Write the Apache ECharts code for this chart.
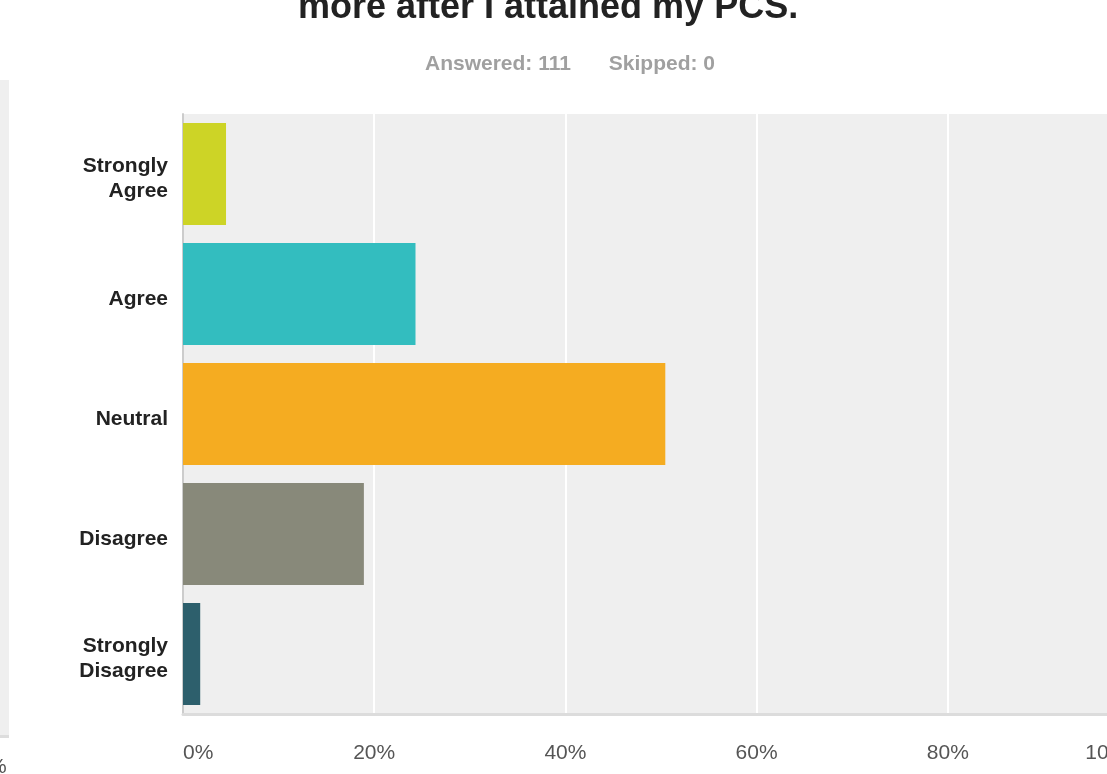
<!DOCTYPE html>
<html>
<head>
<meta charset="utf-8">
<script src="https://cdn.jsdelivr.net/npm/echarts@6/dist/echarts.min.js"></script>
<style>
html,body{margin:0;padding:0;background:#fff;overflow:hidden;}
#chart{width:1160px;height:774px;}
</style>
</head>
<body>
<div id="chart"></div>
<script>
var titleText = 'more after I attained my PCS.';
var answeredText = 'Answered: 111';
var skippedText = 'Skipped: 0';
var categories = ['Strongly\nAgree', 'Agree', 'Neutral', 'Disagree', 'Strongly\nDisagree'];
var percents = [4.50, 24.32, 50.45, 18.92, 1.80];
var barColors = ['#cdd426', '#33bdbf', '#f5ac21', '#88897a', '#2d5f6c'];
var xTicks = [0, 20, 40, 60, 80, 100];

var chart = echarts.init(document.getElementById('chart'));
var font = 'Liberation Sans, Arial, sans-serif';
chart.setOption({
  animation: false,
  backgroundColor: '#ffffff',
  grid: {
    left: 183, right: 21, top: 114, bottom: 60,
    show: true, backgroundColor: '#efefef', borderWidth: 0
  },
  xAxis: {
    type: 'value', min: xTicks[0], max: xTicks[xTicks.length - 1], interval: 20,
    axisLine: { show: true, lineStyle: { color: '#dcdcdc', width: 3 } },
    axisTick: { show: false },
    splitLine: { show: true, lineStyle: { color: '#ffffff', width: 2 } },
    axisLabel: {
      formatter: '{value}%', color: '#555555', fontSize: 21, fontFamily: font,
      margin: 29, alignMinLabel: 'left', alignMaxLabel: 'right'
    }
  },
  yAxis: {
    type: 'category', data: categories, inverse: true,
    axisLine: { show: true, lineStyle: { color: '#cccccc', width: 2 } },
    axisTick: { show: false },
    splitLine: { show: false },
    axisLabel: {
      margin: 15, align: 'right',
      formatter: function (v) {
        return '{s| }\n' + v.split('\n').map(function (l) { return '{a|' + l + '}'; }).join('\n');
      },
      rich: {
        s: { fontSize: 1, lineHeight: 10 },
        a: { color: '#222222', fontSize: 21, fontWeight: 'bold', fontFamily: font, lineHeight: 25, align: 'right' }
      }
    }
  },
  series: [{
    type: 'bar',
    barCategoryGap: '15%',
    data: percents.map(function (v, i) {
      return { value: v, itemStyle: { color: barColors[i] } };
    })
  }],
  graphic: [
    { type: 'rect', shape: { x: 0, y: 80, width: 9, height: 657 }, style: { fill: '#efefef' } },
    { type: 'rect', shape: { x: 0, y: 735, width: 9, height: 3 }, style: { fill: '#dddddd' } },
    { type: 'text', style: { text: '%', x: -12, y: 767, font: '21px ' + font, fill: '#555555', textVerticalAlign: 'middle' } },
    { type: 'text', style: { text: titleText, x: 298, y: 8, font: 'bold 36px ' + font, fill: '#222222', textVerticalAlign: 'middle', textAlign: 'left' } },
    { type: 'text', style: { text: answeredText, x: 425, y: 64, font: 'bold 21px ' + font, fill: '#a0a0a0', textVerticalAlign: 'middle', textAlign: 'left' } },
    { type: 'text', style: { text: skippedText, x: 715, y: 64, font: 'bold 21px ' + font, fill: '#a0a0a0', textVerticalAlign: 'middle', textAlign: 'right' } }
  ]
});
</script>
</body>
</html>
